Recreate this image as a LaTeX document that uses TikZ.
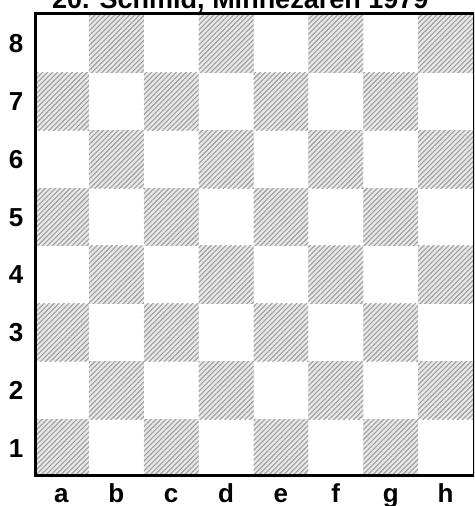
\documentclass[tikz,border=0pt]{standalone}
\usepackage{fontspec}
\setmainfont{Liberation Sans}
\usetikzlibrary{patterns.meta}

\begin{document}
\begin{tikzpicture}[
  x=1pt, y=1pt,
  darksq/.style={draw=none, fill=gray!18, minimum width=54.875pt,
    minimum height=57.75pt, inner sep=0pt, outer sep=0pt},
  hatch/.style={draw=none, minimum width=54.875pt, minimum height=57.75pt,
    inner sep=0pt, outer sep=0pt,
    pattern={Lines[angle=45, distance=3.5pt, line width=1.1pt]},
    pattern color=gray!75},
  rank/.style={font=\bfseries\fontsize{26}{28}\selectfont, anchor=base},
  file/.style={font=\bfseries\fontsize{26}{28}\selectfont, anchor=base},
]

% Frame of the picture
\useasboundingbox (0,0) rectangle (474,506);
\clip (0,0) rectangle (474,506);

% Caption (cut off by the page edge)
\node[font=\bfseries\fontsize{27}{30}\selectfont, anchor=base west,
  inner sep=0pt] (title) at (52,497) {20. Schmid, Minnezaren 1979};

% =============================================
% Dark squares
% =============================================
\foreach \fl [count=\i from 0] in {a,b,c,d,e,f,g,h} {
  \foreach \r in {1,...,8} {
    \pgfmathtruncatemacro\dark{mod(\i+\r,2)}
    \ifnum\dark=1
      \node[darksq] (sq-\fl\r) at ({34+54.875*(\i+0.5)},{29+57.75*(\r-0.5)}) {};
      \node[hatch] at (sq-\fl\r) {};
    \fi
  }
}

% Board frame
\node[draw, line width=3.2pt, minimum width=439pt, minimum height=462pt,
  inner sep=0pt, anchor=south west] (board) at (34,29) {};

% =============================================
% Coordinates
% =============================================
\foreach \r in {1,...,8}
  \node[rank] (rank\r) at (16,{29+57.75*(\r-0.5)-9}) {\r};

\foreach \fl [count=\i from 0] in {a,b,c,d,e,f,g,h}
  \node[file] (file\fl) at ({34+54.875*(\i+0.5)},4) {\fl};

\end{tikzpicture}
\end{document}
